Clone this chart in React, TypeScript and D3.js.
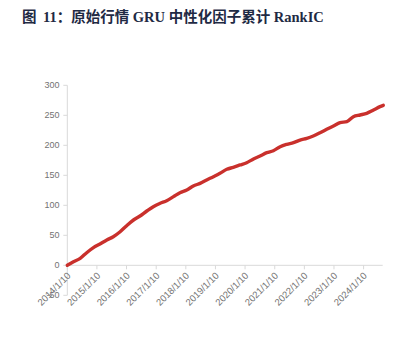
import React from "react";
import * as d3 from "d3";

const titlePrefix = "图";
const titleRest = "11：原始行情 GRU 中性化因子累计 RankIC";

const dates = [
  "2014-01-10", "2014-03-27", "2014-06-18", "2014-09-06", "2014-11-28",
  "2015-02-17", "2015-05-12", "2015-07-31", "2015-10-23", "2016-01-12",
  "2016-04-05", "2016-06-24", "2016-09-16", "2016-12-05", "2017-02-28",
  "2017-05-19", "2017-08-11", "2017-10-30", "2018-01-22", "2018-04-12",
  "2018-07-05", "2018-09-24", "2018-12-16", "2019-03-07", "2019-05-30",
  "2019-08-18", "2019-11-10", "2020-01-30", "2020-04-23", "2020-07-13",
  "2020-10-04", "2020-12-24", "2021-03-18", "2021-06-07", "2021-08-29",
  "2021-11-18", "2022-02-09", "2022-04-30", "2022-07-23", "2022-10-12",
  "2023-01-04", "2023-03-26", "2023-06-18", "2023-09-06", "2023-11-28",
  "2024-02-17", "2024-05-11", "2024-07-31", "2024-09-09",
];

const values = [
  0, 6, 11.6, 21, 29.4,
  35.5, 42.2, 47.7, 56, 66,
  75.5, 82.2, 90.5, 97.7, 103.3,
  107.7, 114.4, 121, 125.5, 132.2,
  136.6, 142.2, 147.7, 153.3, 160,
  163.3, 167.2, 171, 177.2, 182.2,
  187.7, 191, 197.7, 201.6, 204.4,
  208.8, 211.6, 215.5, 221, 226.6,
  232.2, 237.7, 239.4, 247.7, 250.5,
  253.3, 258.8, 264.4, 266.6,
];

const yTicks = [-50, 0, 50, 100, 150, 200, 250, 300];
const xTickDates = [
  "2014-01-10", "2015-01-10", "2016-01-10", "2017-01-10", "2018-01-10",
  "2019-01-10", "2020-01-10", "2021-01-10", "2022-01-10", "2023-01-10",
  "2024-01-10",
];
const xTickLabels = [
  "2014/1/10", "2015/1/10", "2016/1/10", "2017/1/10", "2018/1/10",
  "2019/1/10", "2020/1/10", "2021/1/10", "2022/1/10", "2023/1/10",
  "2024/1/10",
];

const parse = d3.timeParse("%Y-%m-%d");

export default function App() {
  const W = 407, H = 354;
  const x0 = 67.3, x1 = 383.3;
  const x = d3
    .scaleTime()
    .domain([parse(dates[0])!, parse(dates[dates.length - 1])!])
    .range([x0, x1]);
  const y = d3.scaleLinear().domain([-50, 300]).range([295.3, 85.3]);
  const pts = dates.map((d, i) => [x(parse(d)!), y(values[i])] as [number, number]);
  const line = d3.line().curve(d3.curveMonotoneX)(pts) || "";
  const axisColor = "#d9d9d9";
  const labelColor = "#737373";
  const font = "'Liberation Sans', Arial, sans-serif";
  const titleFont = "'Liberation Serif', 'Times New Roman', 'Noto Sans CJK SC', serif";
  return (
    <svg width={W} height={H} style={{ position: "absolute", left: 0, top: 0 }}>
      <rect width={W} height={H} fill="#fff" />
      <text x={22} y={22} fontFamily={titleFont} fontWeight="bold" fontSize={14.5} fill="#1f2a44">
        {titlePrefix}
      </text>
      <text x={43} y={22} fontFamily={titleFont} fontWeight="bold" fontSize={14.5} fill="#1f2a44">
        {titleRest}
      </text>
      {/* y axis */}
      <line x1={x0} x2={x0} y1={y(300)} y2={y(-50)} stroke={axisColor} strokeWidth={1} />
      {yTicks.map((t) => (
        <g key={t}>
          <line x1={x0 - 4} x2={x0} y1={y(t)} y2={y(t)} stroke={axisColor} />
          <text
            x={59.5}
            y={y(t)}
            dy="0.35em"
            textAnchor="end"
            fontFamily={font}
            fontSize={9}
            fill={labelColor}
          >
            {t}
          </text>
        </g>
      ))}
      {/* x axis at 0 */}
      <line x1={x0} x2={382.7} y1={y(0)} y2={y(0)} stroke={axisColor} strokeWidth={1} />
      {xTickDates.map((d, i) => {
        const tx = x(parse(d)!);
        return (
          <g key={d}>
            <line x1={tx} x2={tx} y1={y(0)} y2={y(0) + 4} stroke={axisColor} />
            <text
              transform={`translate(${tx + 4},${y(0) + 11}) rotate(-45)`}
              textAnchor="end"
              fontFamily={font}
              fontSize={9.5}
              fill={labelColor}
            >
              {xTickLabels[i]}
            </text>
          </g>
        );
      })}
      <path d={line} fill="none" stroke="#c9302c" strokeWidth={3.4} strokeLinejoin="round" strokeLinecap="round" />
    </svg>
  );
}
